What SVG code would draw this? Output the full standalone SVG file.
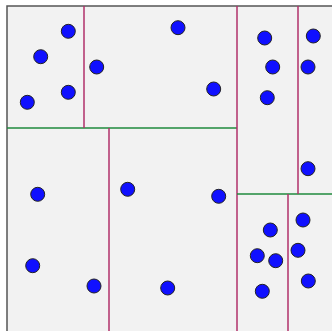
<svg xmlns="http://www.w3.org/2000/svg" width="332" height="331" viewBox="0 0 332 331">
<style>
.v{stroke:#b0306a;stroke-width:1.5;fill:none}
.h{stroke:#1f8a3c;stroke-width:1.5;fill:none}
.p{fill:#1010ff;stroke:#222;stroke-width:1}
</style>
<rect x="0" y="0" width="332" height="331" fill="#ffffff"/>
<rect x="7" y="6" width="330" height="330" fill="#f2f2f2" stroke="#555" stroke-width="1.5"/>
<g id="splits">
<line class="h" x1="7" y1="128" x2="237" y2="128"/>
<line class="v" x1="84" y1="6" x2="84" y2="128"/>
<line class="v" x1="109" y1="128" x2="109" y2="331"/>
<line class="v" x1="237" y1="6" x2="237" y2="331"/>
<line class="h" x1="237" y1="194" x2="332" y2="194"/>
<line class="v" x1="298" y1="6" x2="298" y2="194"/>
<line class="v" x1="288" y1="194" x2="288" y2="331"/>
</g>
<g id="points">
<circle class="p" cx="68.3" cy="31.3" r="7"/>
<circle class="p" cx="40.7" cy="56.7" r="7"/>
<circle class="p" cx="96.7" cy="67" r="7"/>
<circle class="p" cx="68.3" cy="92.3" r="7"/>
<circle class="p" cx="27.3" cy="102.3" r="7"/>
<circle class="p" cx="178" cy="27.7" r="7"/>
<circle class="p" cx="213.7" cy="89" r="7"/>
<circle class="p" cx="264.7" cy="38" r="7"/>
<circle class="p" cx="313.3" cy="36" r="7"/>
<circle class="p" cx="272.7" cy="67" r="7"/>
<circle class="p" cx="308" cy="67" r="7"/>
<circle class="p" cx="267.3" cy="97.7" r="7"/>
<circle class="p" cx="308" cy="168.7" r="7"/>
<circle class="p" cx="37.7" cy="194.3" r="7"/>
<circle class="p" cx="32.7" cy="265.7" r="7"/>
<circle class="p" cx="94" cy="286" r="7"/>
<circle class="p" cx="127.7" cy="189.3" r="7"/>
<circle class="p" cx="218.7" cy="196.3" r="7"/>
<circle class="p" cx="167.7" cy="288" r="7"/>
<circle class="p" cx="270.3" cy="230" r="7"/>
<circle class="p" cx="303" cy="220" r="7"/>
<circle class="p" cx="257.3" cy="255.7" r="7"/>
<circle class="p" cx="275.7" cy="260.7" r="7"/>
<circle class="p" cx="298" cy="250.3" r="7"/>
<circle class="p" cx="308.3" cy="281" r="7"/>
<circle class="p" cx="262.3" cy="291.3" r="7"/>
</g>
</svg>
